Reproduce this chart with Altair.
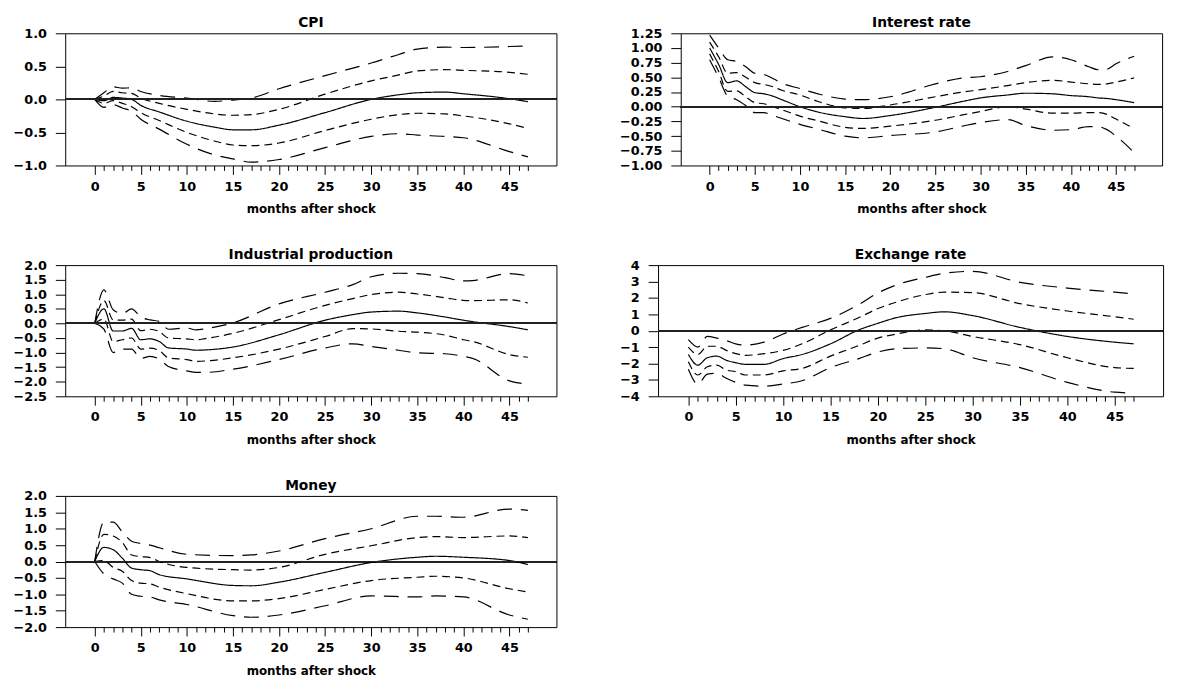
import altair as alt
import pandas as pd

# ---------------- data ----------------
cpi_months = [0, 1, 2, 3, 4, 5, 7, 10, 13, 15, 17, 20, 25, 30, 33, 35, 38, 40, 45, 47]
cpi_median = [0, -0.02, 0.03, 0.02, 0.0, -0.09, -0.19, -0.33, -0.42, -0.46, -0.46, -0.39, -0.2, 0.0, 0.07, 0.1, 0.11, 0.085, 0.01, -0.035]
cpi_in_hi = [0, 0.05, 0.12, 0.10, 0.09, 0.02, -0.06, -0.15, -0.22, -0.24, -0.23, -0.15, 0.08, 0.28, 0.37, 0.43, 0.45, 0.44, 0.41, 0.38]
cpi_out_hi = [0, 0.1, 0.19, 0.17, 0.175, 0.12, 0.06, 0.02, -0.03, -0.01, 0.02, 0.16, 0.36, 0.55, 0.68, 0.76, 0.79, 0.785, 0.8, 0.81]
cpi_in_lo = [0, -0.06, -0.02, -0.06, -0.11, -0.2, -0.32, -0.5, -0.63, -0.69, -0.7, -0.66, -0.47, -0.3, -0.23, -0.21, -0.22, -0.25, -0.37, -0.44]
cpi_out_lo = [0, -0.12, -0.08, -0.13, -0.18, -0.3, -0.45, -0.68, -0.84, -0.9, -0.95, -0.91, -0.73, -0.56, -0.52, -0.54, -0.56, -0.58, -0.79, -0.87]

ir_months = [0, 1, 2, 3, 4, 5, 6, 7, 8, 10, 12, 15, 17, 20, 25, 28, 30, 33, 35, 38, 40, 42, 43, 44, 45, 47]
ir_median = [1.0, 0.72, 0.41, 0.44, 0.34, 0.24, 0.22, 0.18, 0.12, 0.0, -0.09, -0.17, -0.2, -0.15, -0.01, 0.09, 0.15, 0.2, 0.23, 0.22, 0.19, 0.17, 0.15, 0.14, 0.12, 0.07]
ir_in_hi = [1.1, 0.85, 0.57, 0.58, 0.5, 0.41, 0.38, 0.34, 0.28, 0.2, 0.09, -0.02, -0.03, 0.03, 0.17, 0.25, 0.29, 0.36, 0.41, 0.45, 0.42, 0.39, 0.38, 0.39, 0.42, 0.49]
ir_out_hi = [1.22, 1.0, 0.8, 0.77, 0.68, 0.57, 0.55, 0.48, 0.4, 0.31, 0.22, 0.13, 0.12, 0.17, 0.39, 0.49, 0.51, 0.6, 0.7, 0.85, 0.8, 0.68, 0.63, 0.64, 0.73, 0.86]
ir_in_lo = [0.9, 0.6, 0.26, 0.27, 0.17, 0.07, 0.05, 0.0, -0.05, -0.16, -0.24, -0.35, -0.37, -0.33, -0.23, -0.14, -0.08, 0.0, -0.04, -0.11, -0.11, -0.1, -0.1, -0.13, -0.21, -0.37]
ir_out_lo = [0.8, 0.5, 0.18, 0.12, 0.02, -0.1, -0.1, -0.15, -0.2, -0.3, -0.38, -0.5, -0.53, -0.49, -0.43, -0.33, -0.27, -0.22, -0.32, -0.4, -0.39, -0.34, -0.34, -0.39, -0.5, -0.78]

ip_months = [0, 1, 2, 3, 4, 5, 6, 7, 8, 10, 11, 12, 15, 20, 25, 28, 30, 33, 35, 38, 40, 41, 45, 47]
ip_median = [0, 0.5, -0.26, -0.26, -0.17, -0.56, -0.53, -0.62, -0.84, -0.88, -0.92, -0.91, -0.81, -0.39, 0.11, 0.3, 0.39, 0.42, 0.36, 0.22, 0.11, 0.06, -0.11, -0.22]
ip_in_hi = [0, 0.78, 0.12, 0.11, 0.15, -0.25, -0.2, -0.28, -0.5, -0.53, -0.56, -0.52, -0.34, 0.13, 0.62, 0.85, 0.99, 1.07, 1.01, 0.88, 0.79, 0.78, 0.81, 0.7]
ip_out_hi = [0, 1.15, 0.47, 0.34, 0.5, 0.22, 0.12, 0.07, -0.2, -0.16, -0.22, -0.18, 0.02, 0.67, 1.07, 1.33, 1.6, 1.72, 1.71, 1.57, 1.46, 1.47, 1.71, 1.63]
ip_in_lo = [0, 0.15, -0.62, -0.56, -0.5, -0.88, -0.85, -0.93, -1.18, -1.24, -1.3, -1.29, -1.18, -0.88, -0.45, -0.18, -0.19, -0.27, -0.3, -0.4, -0.56, -0.62, -1.07, -1.16]
ip_out_lo = [0, -0.2, -1.0, -0.88, -0.88, -1.2, -1.13, -1.22, -1.48, -1.63, -1.68, -1.68, -1.57, -1.24, -0.84, -0.7, -0.79, -0.92, -1.01, -1.04, -1.13, -1.2, -1.97, -2.08]

er_months = [0, 1, 2, 3, 4, 5, 6, 8, 10, 12, 15, 18, 20, 22, 25, 27, 30, 35, 40, 45, 47]
er_median = [-1.45, -2.1, -1.65, -1.55, -1.8, -1.95, -2.05, -2.05, -1.7, -1.45, -0.8, 0.05, 0.45, 0.8, 1.05, 1.15, 0.92, 0.2, -0.35, -0.7, -0.8]
er_in_hi = [-1.0, -1.45, -0.95, -0.95, -1.2, -1.4, -1.5, -1.4, -1.2, -0.8, 0.05, 0.8, 1.35, 1.75, 2.2, 2.35, 2.32, 1.65, 1.2, 0.85, 0.7]
er_out_hi = [-0.55, -1.0, -0.35, -0.45, -0.6, -0.8, -0.88, -0.7, -0.2, 0.2, 0.75, 1.6, 2.3, 2.8, 3.25, 3.5, 3.62, 2.95, 2.6, 2.35, 2.25]
er_in_lo = [-1.9, -2.7, -2.2, -2.1, -2.4, -2.5, -2.7, -2.7, -2.45, -2.3, -1.55, -0.9, -0.45, -0.2, 0.05, 0.0, -0.35, -0.85, -1.65, -2.25, -2.3]
er_out_lo = [-2.35, -3.26, -2.65, -2.6, -2.9, -3.15, -3.32, -3.38, -3.25, -3.05, -2.25, -1.7, -1.3, -1.1, -1.05, -1.1, -1.65, -2.25, -3.15, -3.75, -3.8]

mo_months = [0, 1, 2, 3, 4, 5, 6, 7, 10, 15, 17, 20, 25, 30, 35, 37, 40, 45, 47]
mo_median = [0, 0.43, 0.36, 0.1, -0.2, -0.25, -0.28, -0.4, -0.53, -0.73, -0.74, -0.63, -0.33, -0.03, 0.13, 0.16, 0.13, 0.03, -0.09]
mo_in_hi = [0, 0.83, 0.78, 0.58, 0.2, 0.15, 0.12, 0.0, -0.18, -0.25, -0.26, -0.18, 0.22, 0.48, 0.73, 0.76, 0.73, 0.78, 0.73]
mo_out_hi = [0, 1.2, 1.2, 0.9, 0.62, 0.55, 0.5, 0.42, 0.22, 0.18, 0.2, 0.32, 0.7, 1.0, 1.38, 1.38, 1.35, 1.6, 1.56]
mo_in_lo = [0, 0.03, -0.18, -0.3, -0.58, -0.66, -0.68, -0.78, -0.98, -1.2, -1.2, -1.13, -0.85, -0.58, -0.48, -0.45, -0.5, -0.83, -0.93]
mo_out_lo = [0, -0.38, -0.53, -0.66, -1.0, -1.06, -1.08, -1.17, -1.31, -1.65, -1.7, -1.63, -1.35, -1.05, -1.08, -1.05, -1.08, -1.63, -1.76]

x_ticks = list(range(48))
SERIES = ["median", "inner_hi", "inner_lo", "outer_hi", "outer_lo"]
DASHES = [[1, 0], [8, 5], [8, 5], [15, 9], [15, 9]]
FONT = "DejaVu Sans"


def panel(title, months, series, y_values, fmt, width, height=134):
    rows = []
    for name, vals in zip(SERIES, series):
        for m, v in zip(months, vals):
            rows.append({"m": m, "v": v, "s": name})
    df = pd.DataFrame(rows)
    ydom = [min(y_values), max(y_values)]
    xscale = alt.Scale(domain=[-3.2, 50.1], nice=False, zero=False)
    yscale = alt.Scale(domain=ydom, nice=False, zero=False)
    x_axis = alt.Axis(
        values=x_ticks,
        labelExpr="datum.value % 5 == 0 ? datum.label : ''",
        title="months after shock",
        domain=False,
        grid=False,
        tickSize={"condition": {"test": "datum.value % 5 == 0", "value": 9}, "value": 5},
        labelPadding=6,
        titlePadding=11,
        labelFlush=False,
        labelOverlap=False,
    )
    y_axis = alt.Axis(
        values=y_values,
        format=fmt,
        title=None,
        domain=False,
        grid=False,
        tickSize=10,
        labelPadding=9,
        labelOverlap=False,
        labelFlush=False,
    )
    lines = alt.Chart(df).mark_line(
        color="black", strokeWidth=1.2, interpolate="monotone"
    ).encode(
        x=alt.X("m:Q", scale=xscale, axis=x_axis),
        y=alt.Y("v:Q", scale=yscale, axis=y_axis),
        detail="s:N",
        strokeDash=alt.StrokeDash(
            "s:N", scale=alt.Scale(domain=SERIES, range=DASHES), legend=None
        ),
    )
    zero = alt.Chart(df).mark_rule(color="#222222", strokeWidth=1).encode(
        y=alt.YDatum(datum=0, scale=yscale, axis=y_axis)
    )
    return alt.layer(lines, zero).properties(
        width=width,
        height=height,
        title=alt.TitleParams(
            title, font=FONT, fontSize=14, fontWeight="bold", color="black",
            anchor="middle", offset=-3,
        ),
    )


cpi = panel("CPI", cpi_months, [cpi_median, cpi_in_hi, cpi_in_lo, cpi_out_hi, cpi_out_lo],
            [-1.0, -0.5, 0.0, 0.5, 1.0], ".1f", 498)
ir = panel("Interest rate", ir_months, [ir_median, ir_in_hi, ir_in_lo, ir_out_hi, ir_out_lo],
           [-1.0, -0.75, -0.5, -0.25, 0.0, 0.25, 0.5, 0.75, 1.0, 1.25], ".2f", 488)
ip = panel("Industrial production", ip_months, [ip_median, ip_in_hi, ip_in_lo, ip_out_hi, ip_out_lo],
           [-2.5, -2.0, -1.5, -1.0, -0.5, 0.0, 0.5, 1.0, 1.5, 2.0], ".1f", 498, 133)
er = panel("Exchange rate", er_months, [er_median, er_in_hi, er_in_lo, er_out_hi, er_out_lo],
           [-4, -3, -2, -1, 0, 1, 2, 3, 4], "d", 512, 133)
mo = panel("Money", mo_months, [mo_median, mo_in_hi, mo_in_lo, mo_out_hi, mo_out_lo],
           [-2.0, -1.5, -1.0, -0.5, 0.0, 0.5, 1.0, 1.5, 2.0], ".1f", 498, 133)

chart = alt.vconcat(
    alt.hconcat(cpi, ir, spacing=62),
    alt.hconcat(ip, er, spacing=62),
    mo,
    spacing=32,
).properties(
    padding={"left": 4, "top": 3, "right": 5, "bottom": 0}
).configure_view(
    stroke="black", strokeWidth=1
).configure_axis(
    labelFont=FONT, labelFontSize=13, labelFontWeight="bold", labelColor="black",
    titleFont=FONT, titleFontSize=12, titleFontWeight="bold", titleColor="black",
    tickColor="black", tickWidth=1,
)

chart.save("out.html", embed_options={"renderer": "svg", "actions": False})
